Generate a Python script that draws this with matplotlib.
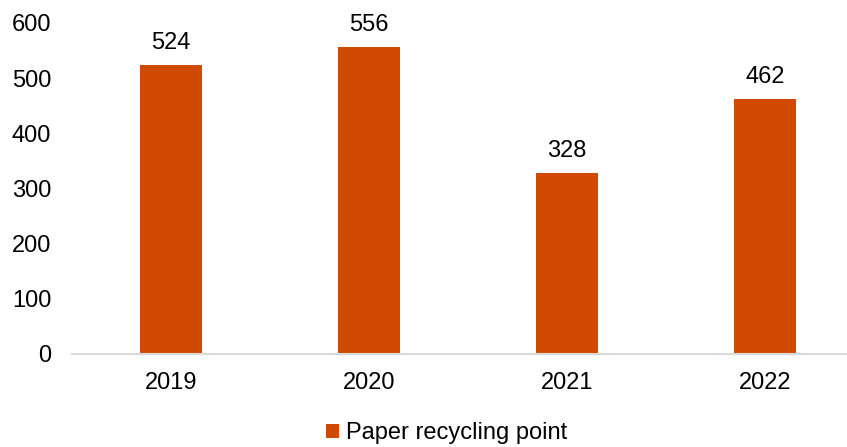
import matplotlib
matplotlib.use("Agg")
import matplotlib.pyplot as plt

# data
years = ["2019", "2020", "2021", "2022"]
points = [524, 556, 328, 462]
series_name = "Paper recycling point"

bar_color = "#D04A02"
plt.rcParams["font.family"] = ["Liberation Sans", "DejaVu Sans"]

fig = plt.figure(figsize=(8.47, 4.47), dpi=100)
ax = fig.add_axes([72 / 847, 93 / 447, 792 / 847, 331 / 447])

x = range(len(years))
bars = ax.bar(x, points, width=0.315, color=bar_color, label=series_name)
ax.bar_label(bars, labels=[str(v) for v in points], padding=8, fontsize=17)

ax.set_xlim(-0.5, 3.5)
ax.set_ylim(0, 600)
ax.set_yticks(range(0, 601, 100))
ax.set_xticks(list(x))
ax.set_xticklabels(years)
ax.tick_params(axis="both", length=0, labelsize=17)
ax.tick_params(axis="y", pad=15)
ax.tick_params(axis="x", pad=13)

for side in ["top", "right", "left"]:
    ax.spines[side].set_visible(False)
ax.spines["bottom"].set_color("#D9D9D9")
ax.spines["bottom"].set_linewidth(1.5)

fig.legend(handles=[bars], labels=[series_name], loc="center",
           bbox_to_anchor=(447 / 847, 1 - 433 / 447), frameon=False,
           fontsize=17, handlelength=0.55, handleheight=0.55,
           handletextpad=0.3, borderpad=0)

fig.savefig("out.png", dpi=100)
